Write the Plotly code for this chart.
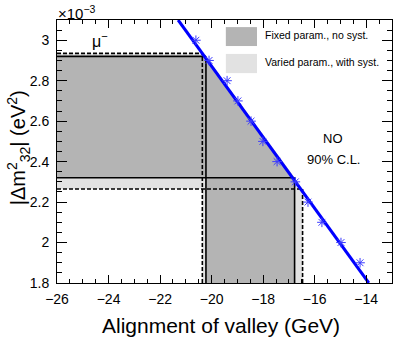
import plotly.graph_objects as go

# scan points (blue stars), x in GeV, y in 1e-3 eV^2
scan_x = [-20.61, -20.10, -19.40, -18.98, -18.47, -18.01, -17.46, -16.75, -16.26, -15.72, -14.98, -14.24]
scan_y = [3.0, 2.9, 2.8, 2.7, 2.6, 2.5, 2.4, 2.3, 2.2, 2.1, 2.0, 1.9]

# straight line through the scan
fit_x = [-21.3, -13.9]
fit_y = [3.1, 1.8]

# 90% C.L. boundaries
fixed_x = [-20.22, -16.78]   # left, right
fixed_y = [2.32, 2.92]       # low, high
varied_x = [-20.36, -16.47]
varied_y = [2.265, 2.935]

xmin, xmax = -26, -13
ymin, ymax = 1.8, 3.1

FONT = "Liberation Sans, Arial, sans-serif"
DARK = "rgb(180,180,180)"
LIGHT = "rgb(226,226,226)"
BLUE = "rgb(0,0,255)"


def region(bx, by):
    # L-shaped area left/below the line, without the bottom-left corner
    xs = [xmin, xmin, bx[0], bx[1], bx[1], bx[0], bx[0], xmin]
    ys = [by[0], by[1], by[1], by[0], ymin, ymin, by[0], by[0]]
    return xs, ys


def outline(bx, by):
    xs = [xmin, bx[1], None, xmin, bx[0], None, bx[0], bx[0], None, bx[1], bx[1]]
    ys = [by[0], by[0], None, by[1], by[1], None, ymin, by[1], None, ymin, by[0]]
    return xs, ys


fig = go.Figure()

vx, vy = region(varied_x, varied_y)
fig.add_trace(go.Scatter(x=vx, y=vy, fill="toself", fillcolor=LIGHT,
                         line=dict(width=0), mode="lines", hoverinfo="skip"))
fx, fy = region(fixed_x, fixed_y)
fig.add_trace(go.Scatter(x=fx, y=fy, fill="toself", fillcolor=DARK,
                         line=dict(width=0), mode="lines", hoverinfo="skip"))

ox, oy = outline(varied_x, varied_y)
fig.add_trace(go.Scatter(x=ox, y=oy, mode="lines",
                         line=dict(color="black", width=1.6, dash="4px,2px")))
ox, oy = outline(fixed_x, fixed_y)
fig.add_trace(go.Scatter(x=ox, y=oy, mode="lines",
                         line=dict(color="black", width=1.6)))

fig.add_trace(go.Scatter(x=fit_x, y=fit_y, mode="lines",
                         line=dict(color=BLUE, width=3)))
fig.add_trace(go.Scatter(x=scan_x, y=scan_y, mode="markers",
                         marker=dict(symbol="asterisk-open", size=8, color="rgb(60,60,255)",
                                     line=dict(color="rgb(60,60,255)", width=1))))

axis_common = dict(showline=True, linecolor="black", linewidth=1, mirror="ticks",
                   ticks="inside", tickcolor="black", showgrid=False, zeroline=False,
                   tickfont=dict(family=FONT, size=14, color="black"))

fig.update_xaxes(range=[xmin, xmax], dtick=2, tick0=0, ticklen=8,
                 minor=dict(dtick=0.5, ticks="inside", ticklen=4, tickcolor="black"),
                 ticklabelstandoff=3, **axis_common)
fig.update_yaxes(range=[ymin, ymax], dtick=0.2, tick0=0, ticklen=10,
                 minor=dict(dtick=0.05, ticks="inside", ticklen=5, tickcolor="black"),
                 ticklabelstandoff=4, **axis_common)

annotations = [
    dict(text="Alignment of valley (GeV)", x=0.49, y=-0.163, font=dict(size=21)),
    dict(text="|Δm<sup>2</sup><sub>32</sub>| (eV<sup>2</sup>)", x=-0.116, y=0.513,
         textangle=-90, font=dict(size=20)),
    dict(text="×10<sup>−3</sup>", x=-0.003, y=1.03, xanchor="left", font=dict(size=15)),
    dict(text="μ<sup>−</sup>", x=0.128, y=0.924, font=dict(size=16)),
    dict(text="NO", x=0.825, y=0.551, font=dict(size=13)),
    dict(text="90% C.L.", x=0.825, y=0.468, font=dict(size=13)),
    dict(text="Fixed param., no syst.", x=0.615, y=0.943, xanchor="left", font=dict(size=10.5)),
    dict(text="Varied param., with syst.", x=0.615, y=0.840, xanchor="left", font=dict(size=10.5)),
]
for a in annotations:
    a.setdefault("xanchor", "center")
    a.update(xref="paper", yref="paper", yanchor="middle", showarrow=False)
    a["font"].update(family=FONT, color="black")
    fig.add_annotation(**a)

fig.add_shape(type="rect", xref="paper", yref="paper", x0=0.504, x1=0.597, y0=0.901, y1=0.973,
              fillcolor=DARK, line=dict(width=0))
fig.add_shape(type="rect", xref="paper", yref="paper", x0=0.504, x1=0.597, y0=0.798, y1=0.871,
              fillcolor=LIGHT, line=dict(width=0))

fig.update_layout(width=407, height=344, showlegend=False,
                  margin=dict(l=57, r=15, t=20, b=61),
                  plot_bgcolor="white", paper_bgcolor="white",
                  font=dict(family=FONT, color="black"))

# page body has a default 8px margin; drop it so the figure sits at the window corner
fig.write_html("out.html", config={"displayModeBar": False},
               post_script="document.body.style.margin='0';")
